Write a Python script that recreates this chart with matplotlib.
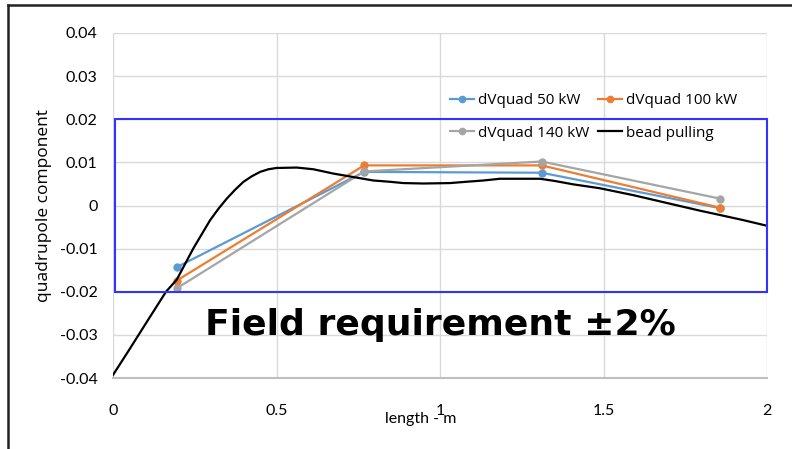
import matplotlib
matplotlib.use("Agg")
import matplotlib.pyplot as plt
from matplotlib.lines import Line2D
from matplotlib.patches import Rectangle

# Measurement positions along the structure (m)
pos = [0.195, 0.768, 1.311, 1.856]

# Quadrupole component from simulation at three RF powers
dv_50kw = [-0.0143, 0.0078, 0.0076, -0.0006]
dv_100kw = [-0.0174, 0.0093, 0.0093, -0.0005]
dv_140kw = [-0.0192, 0.0079, 0.0102, 0.0016]

# Bead-pull measurement
bead_x = [0.000, 0.050, 0.100, 0.162, 0.195, 0.246, 0.297, 0.323, 0.348,
          0.374, 0.399, 0.425, 0.450, 0.475, 0.500, 0.562, 0.613, 0.674,
          0.735, 0.796, 0.847, 0.888, 0.950, 1.031, 1.080, 1.133, 1.183,
          1.240, 1.306, 1.350, 1.408, 1.489, 1.591, 1.693, 1.795, 1.856,
          1.928, 2.000]
bead_y = [-0.0393, -0.0334, -0.0274, -0.0200, -0.0172, -0.0099, -0.0034,
          -0.0007, 0.0016, 0.0037, 0.0055, 0.0068, 0.0078, 0.0084, 0.0087,
          0.0088, 0.0084, 0.0074, 0.0066, 0.0058, 0.0055, 0.0052, 0.0051,
          0.0052, 0.0055, 0.0058, 0.0062, 0.0062, 0.0062, 0.0057, 0.0049,
          0.0040, 0.0024, 0.0006, -0.0012, -0.0022, -0.0034, -0.0047]

# Tolerance band (+/-2 %)
band_x0, band_x1 = 0.005, 2.0
band_lo, band_hi = -0.02, 0.02

x_ticks = [0, 0.5, 1, 1.5, 2]
y_ticks = [-0.04, -0.03, -0.02, -0.01, 0, 0.01, 0.02, 0.03, 0.04]
y_tick_labels = ["-0.04", "-0.03", "-0.02", "-0.01", "0", "0.01", "0.02", "0.03", "0.04"]

W, H = 792, 449
fig = plt.figure(figsize=(W / 100, H / 100), dpi=100)
ax = fig.add_axes([113 / W, 1 - 378 / H, (767 - 113) / W, (378 - 33) / H])

font = "Lato"

ax.set_xlim(0, 2)
ax.set_ylim(-0.04, 0.04)
ax.set_xticks(x_ticks)
ax.set_xticklabels([f"{t:g}" for t in x_ticks])
ax.set_yticks(y_ticks)
ax.set_yticklabels(y_tick_labels)
ax.tick_params(length=0, labelsize=11.5)
ax.tick_params(axis="y", pad=11)
ax.tick_params(axis="x", pad=19)
for lab in ax.get_xticklabels() + ax.get_yticklabels():
    lab.set_family(font)
ax.grid(True, color="#d9d9d9", linewidth=1.0)
ax.set_axisbelow(True)
for side in ("top", "right", "left"):
    ax.spines[side].set_visible(False)
ax.spines["bottom"].set_color("#bfbfbf")
ax.spines["bottom"].set_linewidth(1.5)

mk = dict(marker="o", markersize=5, linewidth=1.6)
l50, = ax.plot(pos, dv_50kw, color="#5B9BD5", label="dVquad 50 kW", **mk)
l100, = ax.plot(pos, dv_100kw, color="#ED7D31", label="dVquad 100 kW", **mk)
l140, = ax.plot(pos, dv_140kw, color="#A5A5A5", label="dVquad 140 kW", **mk)
lbead, = ax.plot(bead_x, bead_y, color="black", linewidth=1.6, label="bead pulling")

ax.add_patch(Rectangle((band_x0, band_lo), band_x1 - band_x0, band_hi - band_lo,
                       fill=False, edgecolor="#3333ff", linewidth=1.5,
                       zorder=6, clip_on=False))

ax.text(1.0, -0.030, "Field requirement \u00b12%", ha="center", va="baseline",
        fontsize=26, fontweight="bold", family="DejaVu Sans", zorder=7)

ax.set_ylabel("quadrupole component", family="Open Sans", fontsize=12.5)
ax.yaxis.set_label_coords(-0.094, 0.5)
ax.set_xlabel("length - m", family=font, fontsize=11.5)
ax.xaxis.set_label_coords(0.471, -0.10)

# Legend laid out row by row: (50, 100) over (140, bead)
handles = [l50, l140, l100, lbead]
leg = fig.legend(handles, [h.get_label() for h in handles],
                 loc="upper left", bbox_to_anchor=(450 / W, 1 - 93 / H),
                 ncol=2, frameon=False, prop={"family": "Open Sans", "size": 11},
                 handlelength=1.6, handletextpad=0.2, columnspacing=0.6,
                 labelspacing=1.15, borderpad=0, borderaxespad=0,
                 markerscale=0.9)

# Outer chart frame
fig.add_artist(Line2D([8 / W, 1], [1 - 5 / H, 1 - 5 / H], color="#222222",
                      linewidth=1.8, transform=fig.transFigure))
fig.add_artist(Line2D([8 / W, 8 / W], [1 - 5 / H, 0], color="#222222",
                      linewidth=1.8, transform=fig.transFigure))

fig.savefig("out.png", dpi=100)
